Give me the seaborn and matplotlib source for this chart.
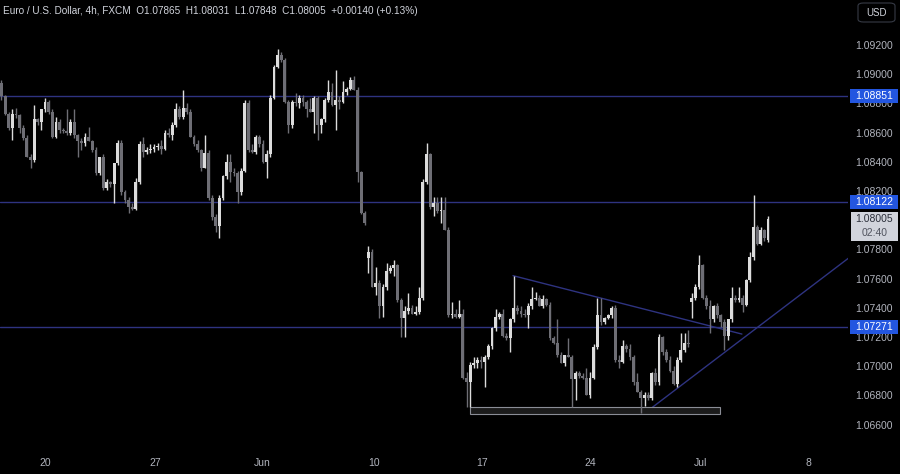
import numpy as np
import pandas as pd
import matplotlib
matplotlib.use("Agg")
import matplotlib.pyplot as plt
import matplotlib.transforms as mtransforms
from matplotlib.patches import Rectangle, FancyBboxPatch
import seaborn as sns

# EUR/USD 4h candles (16 May -> 3 Jul), one value per bar
opens = [1.0894, 1.0885, 1.0873, 1.0863, 1.0873, 1.0872, 1.0863, 1.0856, 1.0843, 1.0841,
         1.0869, 1.0867, 1.0876, 1.0881, 1.0874, 1.0857, 1.0867, 1.0862, 1.0861, 1.0860,
         1.0867, 1.0858, 1.0854, 1.0853, 1.0857, 1.0854, 1.0848, 1.0832, 1.0843, 1.0822,
         1.0826, 1.0825, 1.0839, 1.0853, 1.0819, 1.0814, 1.0809, 1.0808, 1.0826, 1.0852,
         1.0847, 1.0848, 1.0849, 1.0850, 1.0851, 1.0849, 1.0860, 1.0858, 1.0865, 1.0876,
         1.0871, 1.0877, 1.0874, 1.0857, 1.0852, 1.0848, 1.0836, 1.0846, 1.0815, 1.0802,
         1.0796, 1.0815, 1.0830, 1.0840, 1.0833, 1.0832, 1.0819, 1.0834, 1.0880, 1.0848,
         1.0847, 1.0857, 1.0852, 1.0840, 1.0845, 1.0884, 1.0905, 1.0913, 1.0910, 1.0881,
         1.0865, 1.0881, 1.0880, 1.0884, 1.0881, 1.0876, 1.0874, 1.0884, 1.0865, 1.0869,
         1.0882, 1.0888, 1.0879, 1.0882, 1.0881, 1.0888, 1.0890, 1.0896, 1.0889, 1.0833,
         1.0805, 1.0774, 1.0778, 1.0754, 1.0757, 1.0741, 1.0754, 1.0765, 1.0767, 1.0769,
         1.0745, 1.0733, 1.0738, 1.0740, 1.0736, 1.0737, 1.0747, 1.0826, 1.0845, 1.0809,
         1.0812, 1.0806, 1.0807, 1.0793, 1.0735, 1.0736, 1.0734, 1.0736, 1.0692, 1.0689,
         1.0701, 1.0702, 1.0704, 1.0703, 1.0706, 1.0714, 1.0726, 1.0734, 1.0736, 1.0721,
         1.0719, 1.0732, 1.0740, 1.0738, 1.0736, 1.0735, 1.0741, 1.0746, 1.0747, 1.0741,
         1.0746, 1.0742, 1.0719, 1.0716, 1.0708, 1.0702, 1.0708, 1.0706, 1.0691, 1.0695,
         1.0693, 1.0692, 1.0680, 1.0692, 1.0713, 1.0735, 1.0730, 1.0733, 1.0735, 1.0740,
         1.0704, 1.0703, 1.0714, 1.0712, 1.0706, 1.0689, 1.0682, 1.0678, 1.0680, 1.0678,
         1.0695, 1.0689, 1.0720, 1.0710, 1.0704, 1.0697, 1.0688, 1.0704, 1.0711, 1.0716,
         1.0744, 1.0747, 1.0754, 1.0769, 1.0747, 1.0741, 1.0732, 1.0741, 1.0735, 1.0730,
         1.0721, 1.0732, 1.0747, 1.0745, 1.0747, 1.0742, 1.0759, 1.0775, 1.0795, 1.0784,
         1.0793, 1.07865]
highs = [1.0896, 1.0886, 1.0874, 1.0876, 1.0877, 1.0873, 1.0865, 1.0858, 1.0845, 1.0879,
         1.0870, 1.0870, 1.0884, 1.0882, 1.0876, 1.0871, 1.0869, 1.0863, 1.0876, 1.0869,
         1.0876, 1.0859, 1.0856, 1.0860, 1.0864, 1.0855, 1.0850, 1.0843, 1.0845, 1.0828,
         1.0827, 1.0839, 1.0855, 1.0855, 1.0821, 1.0816, 1.0812, 1.0829, 1.0854, 1.0857,
         1.0850, 1.0852, 1.0852, 1.0853, 1.0855, 1.0862, 1.0863, 1.0867, 1.0880, 1.0878,
         1.0889, 1.0880, 1.0876, 1.0858, 1.0855, 1.0849, 1.0858, 1.0848, 1.0817, 1.0804,
         1.0817, 1.0831, 1.0845, 1.0845, 1.0836, 1.0834, 1.0836, 1.0882, 1.0882, 1.0852,
         1.0858, 1.0858, 1.0855, 1.0848, 1.0886, 1.0906, 1.0917, 1.0915, 1.0911, 1.0882,
         1.0882, 1.0887, 1.0886, 1.0886, 1.0882, 1.0884, 1.0885, 1.0885, 1.0870, 1.0884,
         1.0896, 1.0894, 1.0903, 1.0885, 1.0895, 1.0891, 1.0898, 1.0899, 1.0891, 1.0834,
         1.0806, 1.0782, 1.0780, 1.0768, 1.0759, 1.0756, 1.0771, 1.0769, 1.0773, 1.0770,
         1.0747, 1.0741, 1.0750, 1.0742, 1.0741, 1.0754, 1.0828, 1.0853, 1.0846, 1.0816,
         1.0816, 1.0816, 1.0816, 1.0795, 1.0744, 1.0739, 1.0745, 1.0739, 1.0696, 1.0703,
         1.0706, 1.0706, 1.0707, 1.0708, 1.0715, 1.0727, 1.0739, 1.0737, 1.0739, 1.0723,
         1.0733, 1.0762, 1.0742, 1.0741, 1.0739, 1.0743, 1.0754, 1.0751, 1.0749, 1.0749,
         1.0747, 1.0744, 1.0721, 1.0732, 1.0710, 1.0708, 1.0719, 1.0708, 1.0697, 1.0697,
         1.0695, 1.0699, 1.0696, 1.0715, 1.0747, 1.0747, 1.0734, 1.0736, 1.0741, 1.0742,
         1.0708, 1.0718, 1.0715, 1.0715, 1.0708, 1.0695, 1.0684, 1.0682, 1.0682, 1.0696,
         1.0699, 1.0722, 1.0721, 1.0712, 1.0707, 1.0700, 1.0706, 1.0723, 1.0723, 1.0725,
         1.0750, 1.0756, 1.0776, 1.0770, 1.0749, 1.0745, 1.0742, 1.0743, 1.0736, 1.0732,
         1.0732, 1.0754, 1.0749, 1.0754, 1.0749, 1.0760, 1.0778, 1.0817, 1.0797, 1.0795,
         1.0794, 1.08031]
lows = [1.0882, 1.0872, 1.0862, 1.0855, 1.0870, 1.0860, 1.0855, 1.0843, 1.0836, 1.0840,
        1.0865, 1.0862, 1.0874, 1.0873, 1.0856, 1.0856, 1.0860, 1.0860, 1.0858, 1.0858,
        1.0856, 1.0843, 1.0848, 1.0851, 1.0854, 1.0847, 1.0831, 1.0831, 1.0821, 1.0821,
        1.0823, 1.0812, 1.0838, 1.0817, 1.0812, 1.0805, 1.0807, 1.0807, 1.0825, 1.0843,
        1.0845, 1.0846, 1.0847, 1.0848, 1.0845, 1.0848, 1.0857, 1.0855, 1.0864, 1.0869,
        1.0869, 1.0873, 1.0857, 1.0851, 1.0847, 1.0834, 1.0836, 1.0814, 1.0800, 1.0792,
        1.0788, 1.0814, 1.0828, 1.0826, 1.0830, 1.0812, 1.0817, 1.0833, 1.0847, 1.0846,
        1.0845, 1.0850, 1.0839, 1.0829, 1.0843, 1.0883, 1.0904, 1.0908, 1.0880, 1.0860,
        1.0863, 1.0878, 1.0877, 1.0878, 1.0871, 1.0874, 1.0860, 1.0855, 1.0860, 1.0867,
        1.0881, 1.0878, 1.0862, 1.0876, 1.0880, 1.0886, 1.0889, 1.0889, 1.0826, 1.0804,
        1.0797, 1.0764, 1.0754, 1.0749, 1.0733, 1.0734, 1.0752, 1.0764, 1.0762, 1.0744,
        1.0720, 1.0720, 1.0736, 1.0736, 1.0735, 1.0736, 1.0745, 1.0825, 1.0808, 1.0803,
        1.0805, 1.0798, 1.0793, 1.0734, 1.0733, 1.0733, 1.0733, 1.0691, 1.0672, 1.0672,
        1.0699, 1.0699, 1.0699, 1.0686, 1.0705, 1.0712, 1.0724, 1.0732, 1.0720, 1.0718,
        1.0710, 1.0730, 1.0736, 1.0734, 1.0734, 1.0726, 1.0739, 1.0745, 1.0741, 1.0740,
        1.0741, 1.0718, 1.0715, 1.0706, 1.0702, 1.0700, 1.0706, 1.0672, 1.0677, 1.0692,
        1.0691, 1.0680, 1.0678, 1.0691, 1.0712, 1.0728, 1.0729, 1.0732, 1.0733, 1.0703,
        1.0699, 1.0702, 1.0710, 1.0704, 1.0687, 1.0682, 1.0668, 1.0673, 1.0677, 1.0677,
        1.0687, 1.0687, 1.0708, 1.0703, 1.0696, 1.0687, 1.0686, 1.0703, 1.0710, 1.0713,
        1.0733, 1.0745, 1.0753, 1.0746, 1.0739, 1.0723, 1.0730, 1.0733, 1.0727, 1.0711,
        1.0718, 1.0730, 1.0744, 1.0744, 1.0737, 1.0741, 1.0758, 1.0773, 1.0783, 1.0783,
        1.0786, 1.07848]
closes = [1.0885, 1.0873, 1.0863, 1.0873, 1.0872, 1.0863, 1.0856, 1.0843, 1.0841, 1.0869,
          1.0867, 1.0876, 1.0881, 1.0874, 1.0857, 1.0867, 1.0862, 1.0861, 1.0860, 1.0867,
          1.0858, 1.0854, 1.0853, 1.0857, 1.0854, 1.0848, 1.0832, 1.0843, 1.0822, 1.0826,
          1.0825, 1.0839, 1.0853, 1.0819, 1.0814, 1.0809, 1.0808, 1.0826, 1.0852, 1.0847,
          1.0848, 1.0849, 1.0850, 1.0851, 1.0849, 1.0860, 1.0858, 1.0865, 1.0876, 1.0871,
          1.0877, 1.0874, 1.0857, 1.0852, 1.0848, 1.0836, 1.0846, 1.0815, 1.0802, 1.0796,
          1.0815, 1.0830, 1.0840, 1.0833, 1.0832, 1.0819, 1.0834, 1.0880, 1.0848, 1.0847,
          1.0857, 1.0852, 1.0840, 1.0845, 1.0884, 1.0905, 1.0913, 1.0910, 1.0881, 1.0865,
          1.0881, 1.0880, 1.0884, 1.0881, 1.0876, 1.0874, 1.0884, 1.0865, 1.0869, 1.0882,
          1.0888, 1.0879, 1.0882, 1.0881, 1.0888, 1.0890, 1.0896, 1.0889, 1.0833, 1.0805,
          1.0798, 1.0778, 1.0754, 1.0757, 1.0741, 1.0754, 1.0765, 1.0767, 1.0769, 1.0745,
          1.0733, 1.0738, 1.0740, 1.0736, 1.0737, 1.0747, 1.0826, 1.0845, 1.0809, 1.0812,
          1.0806, 1.0807, 1.0793, 1.0735, 1.0736, 1.0734, 1.0736, 1.0692, 1.0689, 1.0701,
          1.0702, 1.0704, 1.0703, 1.0706, 1.0714, 1.0726, 1.0734, 1.0736, 1.0721, 1.0719,
          1.0732, 1.0740, 1.0738, 1.0736, 1.0735, 1.0741, 1.0746, 1.0747, 1.0741, 1.0746,
          1.0742, 1.0719, 1.0716, 1.0708, 1.0702, 1.0708, 1.0706, 1.0691, 1.0695, 1.0693,
          1.0692, 1.0680, 1.0692, 1.0713, 1.0735, 1.0730, 1.0733, 1.0735, 1.0740, 1.0704,
          1.0703, 1.0714, 1.0712, 1.0706, 1.0689, 1.0682, 1.0678, 1.0680, 1.0678, 1.0695,
          1.0689, 1.0720, 1.0710, 1.0704, 1.0697, 1.0688, 1.0704, 1.0711, 1.0716, 1.0715,
          1.0747, 1.0754, 1.0769, 1.0747, 1.0741, 1.0732, 1.0741, 1.0735, 1.0730, 1.0721,
          1.0732, 1.0747, 1.0745, 1.0747, 1.0742, 1.0759, 1.0775, 1.0795, 1.0784, 1.0793,
          1.0788, 1.08005]

levels = [1.08851, 1.08122, 1.07271]
price_ticks = [1.066, 1.068, 1.070, 1.072, 1.074, 1.076, 1.078,
               1.080, 1.082, 1.084, 1.086, 1.088, 1.090, 1.092]
date_labels = ["20", "27", "Jun", "10", "17", "24", "Jul", "8"]
date_pos = [12.0, 42.3, 71.7, 102.6, 132.3, 162.1, 192.3, 222.0]

# hand drawn objects on the chart (bar index, price)
falling_x = [140.8, 203.8]
falling_y = [1.0762, 1.0722]
rising_x = [176.6, 240.0]
rising_y = [1.0667, 1.0787]
base_box = (129.0, 197.8, 1.0667, 1.0672)

BG = "#000000"
BULL = "#dcdcdc"
BEAR = "#6e6e75"
LINE = "#2e3380"
TXT = "#b2b5be"
BLUE = "#2356e0"

df = pd.DataFrame({"open": opens, "high": highs, "low": lows, "close": closes})
df["bar"] = np.arange(len(df))
df["up"] = df["close"] >= df["open"]

sns.set_theme(style="dark", rc={"axes.facecolor": BG, "figure.facecolor": BG,
                                "axes.grid": False})
plt.rcParams["font.family"] = ["Liberation Sans", "DejaVu Sans"]

fig = plt.figure(figsize=(9, 4.74), dpi=100)
ax = fig.add_axes([0, 24 / 474, 848 / 900, 450 / 474])
ax.set_facecolor(BG)

for lvl in levels:
    ax.axhline(lvl, color=LINE, lw=1, zorder=1)
ax.plot(falling_x, falling_y, color=LINE, lw=1, zorder=1)
ax.plot(rising_x, rising_y, color=LINE, lw=1, zorder=1)
x0, x1, y0, y1 = base_box
ax.add_patch(Rectangle((x0, y0), x1 - x0, y1 - y0, fc="#1b1b1b", ec="#8a8d96",
                       lw=0.8, zorder=1.5))

colors = np.where(df["up"], BULL, BEAR)
ax.vlines(df["bar"], df["low"], df["high"], colors=colors, lw=1, zorder=2)
body_lo = df[["open", "close"]].min(axis=1)
body_h = (df["close"] - df["open"]).abs().clip(lower=0.00003)
ax.bar(df["bar"], body_h, bottom=body_lo, width=0.78, color=colors, lw=0, zorder=3)

ax.set_xlim(-0.4, 233.0)
ax.set_ylim(1.06426, 1.09508)
for s in ax.spines.values():
    s.set_visible(False)

ax.yaxis.tick_right()
ax.set_yticks(price_ticks)
ax.set_yticklabels([f"{p:.5f}" for p in price_ticks])
ax.tick_params(axis="y", length=0, pad=5, labelsize=7.5, labelcolor=TXT)
ax.set_xticks(date_pos)
ax.set_xticklabels(date_labels)
ax.tick_params(axis="x", length=0, pad=6, labelsize=7.5, labelcolor=TXT)

# price labels on the right scale
trans = mtransforms.blended_transform_factory(ax.transAxes, ax.transData)
box_h = 14 / 14600
for lvl in levels:
    ax.add_patch(Rectangle((1.0024, lvl - box_h / 2), 48 / 848, box_h, transform=trans,
                           fc=BLUE, ec="none", clip_on=False, zorder=5))
    ax.text(1.031, lvl, f"{lvl:.5f}", transform=trans, ha="center", va="center",
            color="white", fontsize=7.5, zorder=6, clip_on=False)

last = df.iloc[-1]
ax.add_patch(Rectangle((1.0035, 1.07858), 47 / 848, 0.00198, transform=trans,
                       fc="#d1d4dc", ec="none", clip_on=False, zorder=5))
ax.text(1.031, last["close"], f"{last['close']:.5f}", transform=trans, ha="center",
        va="center", color="#2a2e39", fontsize=7.5, zorder=6, clip_on=False)
ax.text(1.031, 1.07912, "02:40", transform=trans, ha="center", va="center",
        color="#50535e", fontsize=7.5, zorder=6, clip_on=False)

# header and currency button
header = (f"Euro / U.S. Dollar, 4h, FXCM  O{last['open']:.5f}  H{last['high']:.5f}  "
          f"L{last['low']:.5f}  C{last['close']:.5f}  +0.00140 (+0.13%)")
fig.text(3 / 900, 1 - 11 / 474, header, ha="left", va="center", fontsize=7.2,
         color="#d1d4dc")
fig.patches.append(FancyBboxPatch((858 / 900, 1 - 22 / 474), 37 / 900, 19 / 474,
                                  boxstyle="round,pad=0,rounding_size=0.006",
                                  transform=fig.transFigure, fc=BG, ec="#363a45",
                                  lw=0.8))
fig.text(876.5 / 900, 1 - 12.5 / 474, "USD", ha="center", va="center", fontsize=7,
         color="#d1d4dc")

fig.savefig("out.png", dpi=100, facecolor=BG)
